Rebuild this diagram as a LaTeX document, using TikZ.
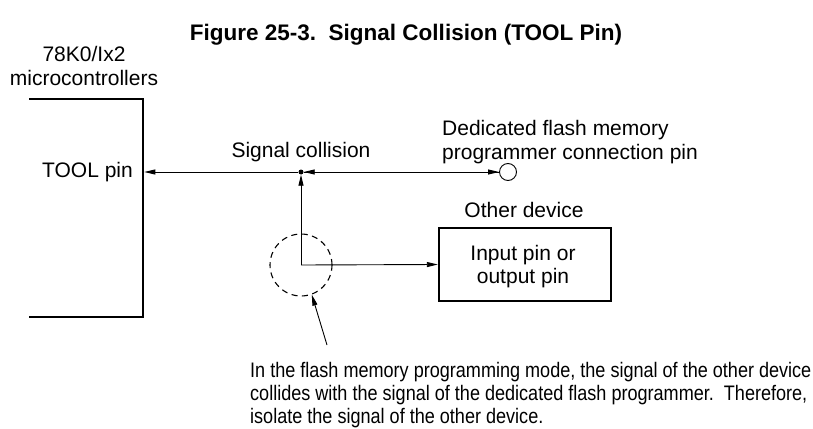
\documentclass[tikz,border=0pt]{standalone}
\usepackage{fontspec}
\setmainfont{Liberation Sans}
\newfontfamily\condfont[FakeStretch=0.86]{Liberation Sans}
\usetikzlibrary{arrows.meta}
\begin{document}
\begin{tikzpicture}[x=1pt,y=-1pt,
  txt/.style={inner sep=0pt,font=\fontsize{21}{24}\selectfont},
  ctxt/.style={inner sep=0pt,font=\condfont\fontsize{21}{23}\selectfont,anchor=base west},
  thickbox/.style={line width=2.4pt},
  conn/.style={line width=0.9pt},
  tip/.style={-{Triangle[length=11pt,width=5pt]}}
]
\useasboundingbox (0,0) rectangle (813,428);
% title
\node[inner sep=0pt,anchor=base,font=\bfseries\fontsize{22.5}{26}\selectfont] (title) at (406,41) {Figure 25-3.\ \ Signal Collision (TOOL Pin)};
% microcontroller
\node[txt,anchor=base] (mcu1) at (84,61) {78K0/Ix2};
\node[txt,anchor=base] (mcu2) at (84,85) {microcontrollers};
\draw[thickbox] (29,99) -- (143,99) -- (143,317) -- (29,317);
\coordinate (mcuR) at (144.3,172);
\node[txt,anchor=base east] (tool) at (133,177) {TOOL pin};
% signal collision
\node[circle,fill,inner sep=0pt,minimum size=5pt] (dot) at (301,172) {};
\node[txt,anchor=base] (sc) at (301,157) {Signal collision};
% programmer pin
\node[circle,draw,conn,inner sep=0pt,minimum size=17pt] (pin) at (508,172) {};
\node[txt,anchor=base west] (ded1) at (442,135) {Dedicated flash memory};
\node[txt,anchor=base west] (ded2) at (442,159) {programmer connection pin};
% other device
\node[draw,thickbox,minimum width=172pt,minimum height=73pt,inner sep=0pt] (dev) at (525,264.5) {};
\node[txt,anchor=base] (od) at (524,217) {Other device};
\node[txt,anchor=base] (in1) at (523,260) {Input pin or};
\node[txt,anchor=base] (in2) at (523,283.5) {output pin};
% connectors
\coordinate (corner) at (301,265);
\draw[conn,tip] (dot) -- (mcuR);
\draw[conn,tip] (dot) -- (pin);
\draw[conn,tip] (pin) -- (dot);
\draw[conn,tip] (corner) -- (dot);
\draw[conn,tip] (corner) -- (dev.west);
% dashed circle
\node[circle,draw,dashed,line width=1.1pt,dash pattern=on 6pt off 4.5pt,inner sep=0pt,minimum size=62pt] (iso) at (corner) {};
\coordinate (ptrEnd) at (327,345);
\draw[conn,tip] (ptrEnd) -- (iso.-70);
% note
\node[ctxt] (n1) at (250,377) {In the flash memory programming mode, the signal of the other device};
\node[ctxt] (n2) at (250,400) {collides with the signal of the dedicated flash programmer.\ \ Therefore,};
\node[ctxt] (n3) at (250,423) {isolate the signal of the other device.};
\end{tikzpicture}
\end{document}
